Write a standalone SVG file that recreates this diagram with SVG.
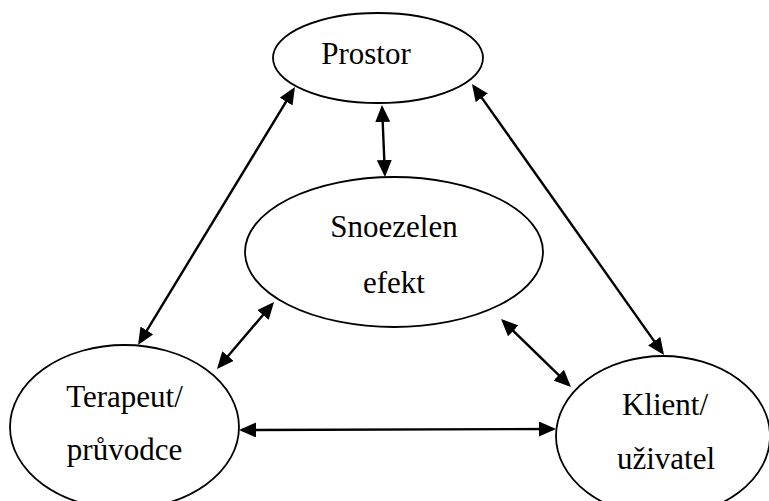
<svg xmlns="http://www.w3.org/2000/svg" width="769" height="501" viewBox="0 0 769 501">
<style>
.node ellipse{fill:#fff;stroke:#000;stroke-width:1.8}
.node text{font-size:31px;fill:#000;text-anchor:middle}
.conn line{stroke:#000;stroke-width:2.4;marker-start:url(#ah);marker-end:url(#ah)}
</style>
<defs>
<marker id="ah" viewBox="0 0 17 15" refX="14" refY="7.5" markerWidth="17" markerHeight="15" markerUnits="userSpaceOnUse" orient="auto-start-reverse">
<path d="M0,0 L17,7.5 L0,15 z" fill="#000"/>
</marker>
</defs>
<rect width="769" height="501" fill="#fff"/>
<g id="prostor" class="node" font-family="'Liberation Serif', 'DejaVu Serif', serif">
<ellipse cx="378" cy="58" rx="105" ry="45"/>
<text x="366" y="64">Prostor</text>
</g>
<g id="snoezelen" class="node" font-family="'Liberation Serif', 'DejaVu Serif', serif">
<ellipse cx="394" cy="252" rx="149" ry="75"/>
<text x="394" y="237">Snoezelen</text>
<text x="394" y="293">efekt</text>
</g>
<g id="terapeut" class="node" font-family="'Liberation Serif', 'DejaVu Serif', serif">
<ellipse cx="124.5" cy="427" rx="114.5" ry="82"/>
<text x="124.5" y="407">Terapeut/</text>
<text x="124.5" y="460">průvodce</text>
</g>
<g id="klient" class="node" font-family="'Liberation Serif', 'DejaVu Serif', serif">
<ellipse cx="663" cy="436" rx="107" ry="80"/>
<text x="665" y="415">Klient/</text>
<text x="666" y="469">uživatel</text>
</g>
<g id="connectors" class="conn">
<line x1="382.1" y1="108" x2="384.9" y2="174"/>
<line x1="293.4" y1="89.6" x2="139.6" y2="342.4"/>
<line x1="473.7" y1="86.4" x2="662.3" y2="352.6"/>
<line x1="272.1" y1="304.3" x2="218.9" y2="366.7"/>
<line x1="503.2" y1="321.1" x2="568.8" y2="384.9"/>
<line x1="242" y1="430" x2="553" y2="429"/>
</g>
</svg>
